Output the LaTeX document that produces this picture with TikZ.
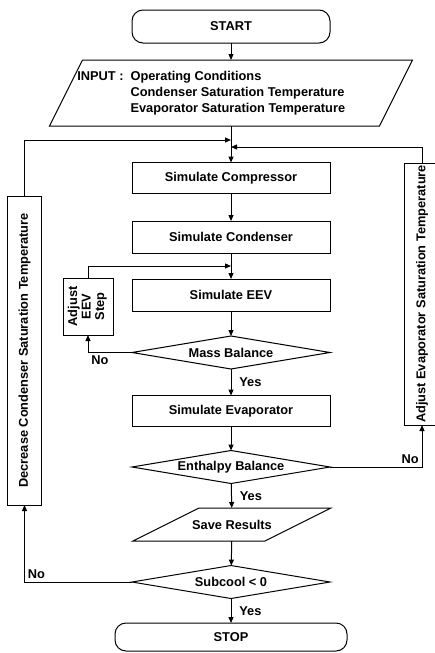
\documentclass[tikz,border=0pt]{standalone}
\usepackage{fontspec}
\setmainfont{Liberation Sans}
\usetikzlibrary{positioning,calc,arrows.meta,shapes.geometric}

\begin{document}
\begin{tikzpicture}[x=1pt,y=-1pt,every node/.style={outer sep=0pt},
		font=\bfseries\fontsize{12.8}{16}\selectfont,
		line width=1pt,
		proc/.style={draw,minimum width=198pt,minimum height=31pt},
		term/.style={draw,rounded corners=11pt,minimum height=33pt},
		decision/.style={draw,diamond,aspect=6,inner sep=0pt,minimum width=198pt,minimum height=33pt},
		slab/.style={draw=none,minimum height=33pt},
		side/.style={draw,inner sep=1pt},
		flow/.style={-{Triangle[length=6pt,width=5pt]}}
		]
		\useasboundingbox (0,0) rectangle (434,653);

		\coordinate(M1) at (231,140);
		\coordinate(M2) at (231,147);
		\coordinate(M3) at (231,266);

		\node[term,minimum width=198pt] (start) at (231,26.5) {START};
		\node[slab,minimum width=330pt,minimum height=66pt] (inp) at (231,93) {};
		\draw ($(inp.north west)+(16.5,0)$) -- ($(inp.north east)+(16.5,0)$) -- ($(inp.south east)+(-16.5,0)$) -- ($(inp.south west)+(-16.5,0)$) -- cycle;
		\node[anchor=west] (inptxt) at (74,93) {\begin{tabular}{@{}l@{\hspace{7pt}}l@{}}INPUT : & Operating Conditions\\ & Condenser Saturation Temperature\\ & Evaporator Saturation Temperature\end{tabular}};

		\node[proc] (comp) at (231,178) {Simulate Compressor};
		\node[proc,minimum height=32pt] (cond) at (231,237) {Simulate Condenser};
		\node[proc,minimum height=32pt] (eev) at (231,295) {Simulate EEV};
		\node[decision] (mass) at (231,352.5) {Mass Balance};
		\node[side,minimum width=50pt,minimum height=57pt] (adj) at (88,306.5) {\rotatebox{90}{\fontsize{12.8}{13.5}\selectfont\begin{tabular}{@{}c@{}}Adjust\\EEV\\Step\end{tabular}}};
		\node[proc] (evap) at (231,411) {Simulate Evaporator};
		\node[decision] (enth) at (231,467) {Enthalpy Balance};
		\node[slab,minimum width=132pt] (save) at (232,524.5) {Save Results};
		\draw ($(save.north west)+(33,0)$) -- ($(save.north east)+(33,0)$) -- ($(save.south east)+(-33,0)$) -- ($(save.south west)+(-33,0)$) -- cycle;
		\node[decision] (sub) at (231,582) {Subcool < 0};
		\node[term,minimum width=232pt,minimum height=28pt] (stop) at (231,637) {STOP};
		\node[side,minimum width=34pt,minimum height=309pt] (decc) at (24.5,350.5) {\rotatebox{90}{Decrease Condenser Saturation Temperature}};
		\node[side,minimum width=36pt,minimum height=262pt] (adje) at (422,294) {\rotatebox{90}{Adjust Evaporator Saturation Temperature}};

		\draw[flow] (start) -- (inp);
		\draw[flow] (inp) -- (comp);
		\draw[flow] (comp) -- (cond);
		\draw[flow] (cond) -- (eev);
		\draw[flow] (eev) -- (mass);
		\draw[flow] (mass) -- node[right=5pt]{Yes} (evap);
		\draw[flow] (evap) -- (enth);
		\draw[flow] (enth) -- node[right=5pt]{Yes} (save);
		\draw[flow] (save) -- (sub);
		\draw[flow] (sub) -- node[right=5pt]{Yes} (stop);

		\draw[flow] (mass.west) -| node[pos=0.5,below right]{No} (adj.south);
		\draw[flow] (adj.north) |- (M3);
		\draw[flow] (enth.east) -| node[pos=0.5,above left]{No} (adje.south);
		\draw[flow] (adje.north) |- (M2);
		\draw[flow] (sub.west) -| node[pos=0.5,above right]{No} (decc.south);
		\draw[flow] (decc.north) |- (M1);
	\end{tikzpicture}
\end{document}
